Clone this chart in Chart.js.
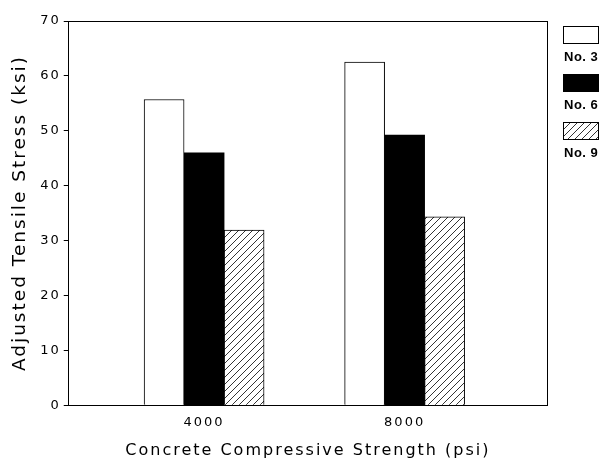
<!DOCTYPE html>
<html>
<head>
<meta charset="utf-8">
<script src="https://cdn.jsdelivr.net/npm/chart.js@4/dist/chart.umd.min.js"></script>
<style>
    html, body { margin: 0; padding: 0; background: #fff; }
    #wrap { width: 606px; height: 462px; }
</style>
</head>
<body>
<div id="wrap"><canvas id="stressChart"></canvas></div>
<script>
// Concrete strength groups (psi)
const strengths = [4000, 8000];

// Adjusted tensile stress (ksi) per bar size
const no3Stress = [55.7, 62.5];
const no6Stress = [46.0, 49.2];
const no9Stress = [31.9, 34.3];

const barLabels = ['No. 3', 'No. 6', 'No. 9'];
const yTicks = [0, 10, 20, 30, 40, 50, 60, 70];

// Diagonal hatch fill for the No. 9 bars
function makeHatch() {
    const size = 7;
    const c = document.createElement('canvas');
    c.width = size;
    c.height = size;
    const g = c.getContext('2d');
    g.fillStyle = '#fff';
    g.fillRect(0, 0, size, size);
    g.strokeStyle = '#000';
    g.lineWidth = 0.8;
    g.beginPath();
    g.moveTo(0, size); g.lineTo(size, 0);
    g.moveTo(-1, 1); g.lineTo(1, -1);
    g.moveTo(size - 1, size + 1); g.lineTo(size + 1, size - 1);
    g.stroke();
    return g.createPattern(c, 'repeat');
}

const hatch = makeHatch();

function points(values) {
    return strengths.map((s, i) => ({ x: s, y: values[i] }));
}

// Wide, plotter-like lettering for every text on the canvas
const spacedText = {
    id: 'spacedText',
    beforeUpdate(chart) { chart.ctx.letterSpacing = '2px'; },
    beforeLayout(chart) { chart.ctx.letterSpacing = '2px'; },
    beforeDraw(chart) { chart.ctx.letterSpacing = '2px'; }
};

// Legend drawn as box with caption underneath, to the right of the frame
const stackedLegend = {
    id: 'stackedLegend',
    afterDraw(chart) {
        const ctx = chart.ctx;
        const left = chart.chartArea.right + 16;
        ctx.save();
        ctx.letterSpacing = '0.5px';
        chart.data.datasets.forEach((ds, i) => {
            const top = 26 + i * 48;
            ctx.fillStyle = ds.backgroundColor;
            ctx.fillRect(left, top, 35, 17);
            ctx.strokeStyle = '#000';
            ctx.lineWidth = 1;
            ctx.strokeRect(left + 0.5, top + 0.5, 35, 17);
            ctx.fillStyle = '#000';
            ctx.font = 'bold 13px "Liberation Sans", Arial, sans-serif';
            ctx.textBaseline = 'middle';
            ctx.textAlign = 'left';
            ctx.fillText(ds.label, left + 1, top + 31);
        });
        ctx.restore();
    }
};

const ctx = document.getElementById('stressChart').getContext('2d');

new Chart(ctx, {
    type: 'bar',
    data: {
        datasets: [
            {
                label: barLabels[0],
                data: points(no3Stress),
                backgroundColor: '#fff',
                borderColor: '#000',
                borderWidth: 1
            },
            {
                label: barLabels[1],
                data: points(no6Stress),
                backgroundColor: '#000',
                borderColor: '#000',
                borderWidth: 0
            },
            {
                label: barLabels[2],
                data: points(no9Stress),
                backgroundColor: hatch,
                borderColor: '#000',
                borderWidth: 1
            }
        ]
    },
    options: {
        responsive: true,
        maintainAspectRatio: false,
        animation: false,
        barThickness: 40,
        layout: {
            padding: { top: 21, right: 59, left: 9, bottom: 0 }
        },
        plugins: {
            legend: { display: false },
            tooltip: { enabled: false }
        },
        scales: {
            x: {
                type: 'linear',
                position: 'bottom',
                offset: false,
                min: 1300,
                max: 10840,
                afterBuildTicks: (scale) => {
                    scale.ticks = strengths.map(v => ({ value: v }));
                },
                grid: { display: false, drawTicks: false },
                border: { display: true, color: '#000', width: 1 },
                ticks: {
                    color: '#000',
                    padding: 10,
                    font: { family: 'DejaVu Sans', size: 13 },
                    callback: (v) => String(v)
                },
                title: {
                    display: true,
                    text: 'Concrete Compressive Strength (psi)',
                    color: '#000',
                    font: { family: 'DejaVu Sans', size: 16 },
                    padding: { top: 0, bottom: 2 }
                }
            },
            xTop: {
                type: 'linear',
                position: 'top',
                grid: { display: false, drawTicks: false },
                ticks: { display: false },
                border: { display: true, color: '#000', width: 1 }
            },
            y: {
                min: 0,
                max: 70,
                afterBuildTicks: (scale) => {
                    scale.ticks = yTicks.map(v => ({ value: v }));
                },
                grid: {
                    drawOnChartArea: false,
                    drawTicks: true,
                    tickLength: 5,
                    color: '#000'
                },
                border: { display: true, color: '#000', width: 1 },
                ticks: {
                    color: '#000',
                    padding: 3,
                    font: { family: 'DejaVu Sans', size: 13 }
                },
                title: {
                    display: true,
                    text: 'Adjusted Tensile Stress (ksi)',
                    color: '#000',
                    font: { family: 'DejaVu Sans', size: 18.5 },
                    padding: { top: 0, bottom: 6 }
                }
            },
            yRight: {
                position: 'right',
                min: 0,
                max: 70,
                grid: { display: false, drawTicks: false },
                ticks: { display: false },
                border: { display: true, color: '#000', width: 1 }
            }
        }
    },
    plugins: [spacedText, stackedLegend]
});
</script>
</body>
</html>
